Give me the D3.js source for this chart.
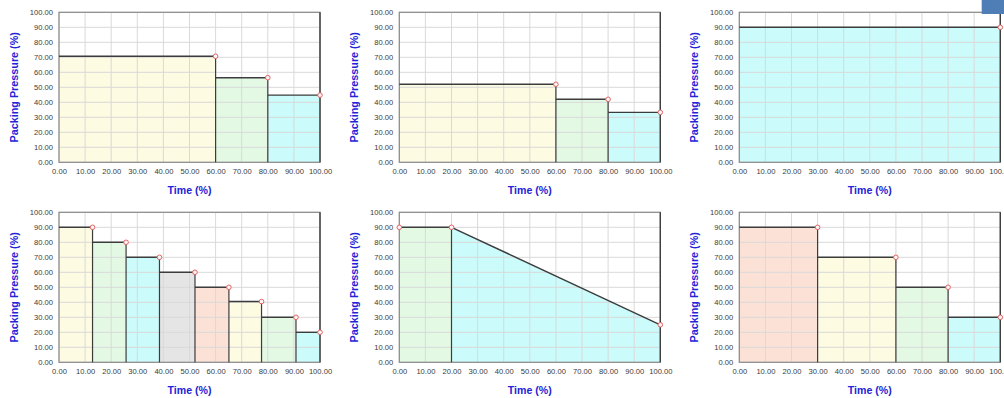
<!DOCTYPE html>
<html>
<head>
<meta charset="utf-8">
<script src="https://cdn.jsdelivr.net/npm/d3@7/dist/d3.min.js"></script>
<style>
  html, body { margin: 0; padding: 0; background: #ffffff; }
  svg { display: block; }
  .tick text { font-family: "Liberation Sans", Arial, sans-serif; font-size: 7.6px; fill: #3a3a3a; }
  .axis-title { font-family: "Liberation Sans", Arial, sans-serif; font-weight: bold; fill: #2323d8; }
</style>
</head>
<body>
<svg id="chart" width="1004" height="398"></svg>
<script>
// Axis ticks shared by all six packing profiles
const timeTicks = [0, 10, 20, 30, 40, 50, 60, 70, 80, 90, 100];
const pressureTicks = [0, 10, 20, 30, 40, 50, 60, 70, 80, 90, 100];

// Profile 1: three pressure steps
const p1Ends = [60, 80, 100];
const p1Pressure = [70.7, 56.4, 44.8];

// Profile 2: three pressure steps
const p2Ends = [60, 80, 100];
const p2Pressure = [52, 42, 33.3];

// Profile 3: single constant step
const p3Ends = [100];
const p3Pressure = [90];

// Profile 4: eight decreasing steps
const p4Ends = [12.85, 25.7, 38.5, 52.1, 65.1, 77.6, 90.8, 100];
const p4Pressure = [90, 80, 70, 60, 50, 40.5, 30, 20];

// Profile 5: hold, then linear ramp down
const p5Ends = [20, 100];
const p5StartPressure = [90, 90];
const p5EndPressure = [90, 25];

// Profile 6: four steps
const p6Ends = [30, 60, 80, 100];
const p6Pressure = [90, 70, 50, 30];

// Segment fills, assigned backwards from the last segment
const segmentFills = ["#cbfbfb", "#e3f9e4", "#fdfbe2", "#fce2d6", "#e5e5e5"];

function buildSegments(ends, fromP, toP) {
  return ends.map((end, i) => ({
    x0: i === 0 ? 0 : ends[i - 1],
    x1: end,
    y0: fromP[i],
    y1: toP[i],
    k: ends.length - 1 - i
  }));
}

const profiles = [
  { segs: buildSegments(p1Ends, p1Pressure, p1Pressure), markStart: false },
  { segs: buildSegments(p2Ends, p2Pressure, p2Pressure), markStart: false },
  { segs: buildSegments(p3Ends, p3Pressure, p3Pressure), markStart: false },
  { segs: buildSegments(p4Ends, p4Pressure, p4Pressure), markStart: false },
  { segs: buildSegments(p5Ends, p5StartPressure, p5EndPressure), markStart: true },
  { segs: buildSegments(p6Ends, p6Pressure, p6Pressure), markStart: false }
];

const svg = d3.select("#chart");
const W = 261, H = 150;
const colX = [59, 399.3, 739.3];
const rowY = [12.3, 212.3];

profiles.forEach((prof, idx) => {
  const left = colX[idx % 3], top = rowY[Math.floor(idx / 3)];
  const x = d3.scaleLinear().domain([0, 100]).range([0, W]);
  const y = d3.scaleLinear().domain([0, 100]).range([H, 0]);
  const g = svg.append("g").attr("transform", `translate(${left},${top})`);

  // plot background
  g.append("rect").attr("width", W).attr("height", H).attr("fill", "#ffffff");

  // filled segments
  g.selectAll("path.seg").data(prof.segs).join("path")
    .attr("class", "seg")
    .attr("fill", d => segmentFills[d.k % segmentFills.length])
    .attr("d", d => `M${x(d.x0)},${y(0)}L${x(d.x0)},${y(d.y0)}L${x(d.x1)},${y(d.y1)}L${x(d.x1)},${y(0)}Z`);

  // grid
  g.selectAll("line.gx").data(timeTicks).join("line")
    .attr("x1", d => x(d)).attr("x2", d => x(d)).attr("y1", 0).attr("y2", H)
    .attr("stroke", "#d9d9d9").attr("stroke-width", 1);
  g.selectAll("line.gy").data(pressureTicks).join("line")
    .attr("y1", d => y(d)).attr("y2", d => y(d)).attr("x1", 0).attr("x2", W)
    .attr("stroke", "#d9d9d9").attr("stroke-width", 1);

  // frame
  g.append("rect").attr("width", W).attr("height", H)
    .attr("fill", "none").attr("stroke", "#8a8a8a").attr("stroke-width", 1.2);
  g.append("line").attr("x1", W).attr("x2", W).attr("y1", 0).attr("y2", H)
    .attr("stroke", "#3c3c3c").attr("stroke-width", 1.3);

  // segment boundaries
  prof.segs.forEach((d, i) => {
    if (i > 0) {
      const prev = prof.segs[i - 1];
      g.append("line")
        .attr("x1", x(d.x0)).attr("x2", x(d.x0))
        .attr("y1", y(0)).attr("y2", y(Math.max(prev.y1, d.y0)))
        .attr("stroke", "#3c3c3c").attr("stroke-width", 1.2);
    }
  });

  // profile tops
  g.selectAll("line.top").data(prof.segs).join("line")
    .attr("x1", d => x(d.x0)).attr("y1", d => y(d.y0))
    .attr("x2", d => x(d.x1)).attr("y2", d => y(d.y1))
    .attr("stroke", "#3c3c3c").attr("stroke-width", 1.4);

  // axes
  const ax = g.append("g").attr("transform", `translate(0,${H})`)
    .call(d3.axisBottom(x).tickValues(timeTicks).tickFormat(d3.format(".2f")).tickSize(0).tickPadding(6));
  ax.select(".domain").remove();
  const ay = g.append("g")
    .call(d3.axisLeft(y).tickValues(pressureTicks).tickFormat(d3.format(".2f")).tickSize(0).tickPadding(6));
  ay.select(".domain").remove();

  // markers
  const pts = prof.segs.map(d => [d.x1, d.y1]);
  if (prof.markStart) pts.unshift([prof.segs[0].x0, prof.segs[0].y0]);
  g.selectAll("circle.mk").data(pts).join("circle")
    .attr("cx", d => x(d[0])).attr("cy", d => y(d[1])).attr("r", 2.3)
    .attr("fill", "#fff4f4").attr("stroke", "#e06666").attr("stroke-width", 1);

  // axis titles
  g.append("text").attr("class", "axis-title")
    .attr("x", W / 2).attr("y", H + 32)
    .attr("text-anchor", "middle").attr("font-size", 10.6)
    .text("Time (%)");
  g.append("text").attr("class", "axis-title")
    .attr("transform", "rotate(-90)")
    .attr("x", -H / 2).attr("y", -44)
    .attr("text-anchor", "middle").attr("dominant-baseline", "middle")
    .attr("font-size", 10.8)
    .text("Packing Pressure (%)");
});

// window control block at the top-right corner
svg.append("rect").attr("x", 981.7).attr("y", 0).attr("width", 22.3).attr("height", 14)
  .attr("fill", "#4f7db6");
</script>
</body>
</html>
